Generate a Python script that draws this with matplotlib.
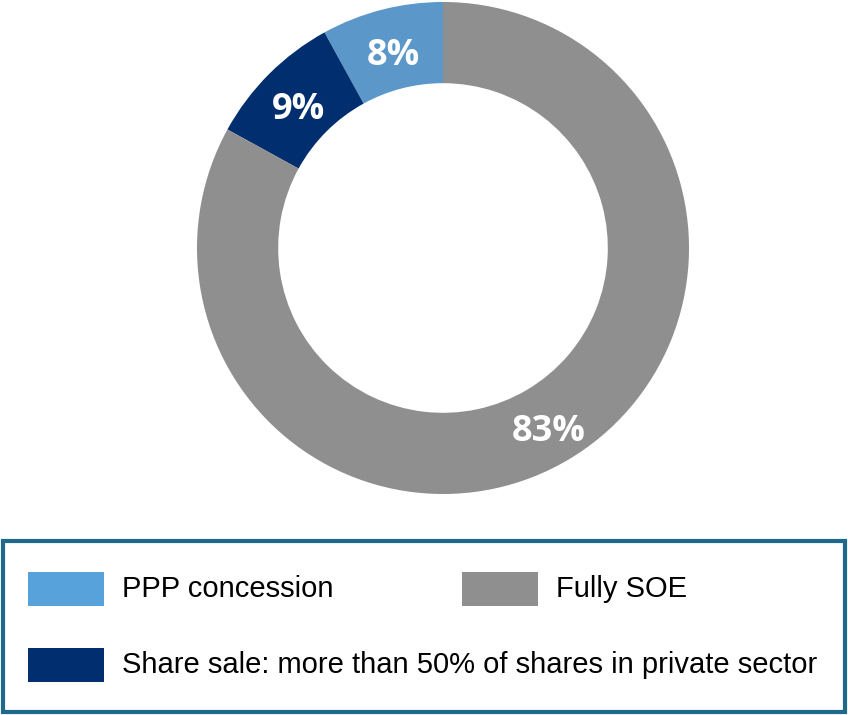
"""
Donut: ownership structure, with a boxed legend below.
"""
import matplotlib.pyplot as plt
from matplotlib.patches import Rectangle
from matplotlib.transforms import offset_copy

# Data
labels = ["PPP concession", "Share sale: more than 50% of shares in private sector", "Fully SOE"]
shares = [8, 9, 83]
pie_colors = ["#5B97C9", "#002E6E", "#8F8F8F"]
legend_colors = ["#58A2DB", "#002E6E", "#8F8F8F"]

W, H = 848, 715
fig = plt.figure(figsize=(W / 100, H / 100), dpi=100)


def px_axes(x0, y0, x1, y1):
    """Axes from pixel box (top-left origin)."""
    return fig.add_axes([x0 / W, 1 - y1 / H, (x1 - x0) / W, (y1 - y0) / H])


# Donut
ax = px_axes(197, 2, 689, 494)
wedges, _, autotexts = ax.pie(
    shares, colors=pie_colors, startangle=90, counterclock=True, radius=1,
    wedgeprops=dict(width=0.33, edgecolor="none"),
    autopct=lambda p: f"{p:.0f}%", pctdistance=0.835,
)
for t in autotexts:
    t.set_color("white")
    t.set_fontsize(26)
    t.set_fontweight("bold")
    t.set_fontfamily("Open Sans")
    t.set_transform(offset_copy(ax.transData, fig=fig, x=1, y=-7, units="dots"))
ax.set_xlim(-1, 1)
ax.set_ylim(-1, 1)
ax.set_aspect("equal")
ax.axis("off")

# Legend box
fig.patches.append(Rectangle((3 / W, 1 - 712 / H), 842 / W, 171 / H,
                             transform=fig.transFigure, fill=False,
                             edgecolor="#1F6A8C", linewidth=3))

# legend items: (label index, patch x, row y-center)
slots = [(0, 28, 589), (2, 462, 589), (1, 28, 665)]
for idx, x, yc in slots:
    fig.patches.append(Rectangle((x / W, 1 - (yc + 17) / H), 76 / W, 34 / H,
                                 transform=fig.transFigure,
                                 facecolor=legend_colors[idx], edgecolor="none"))
    fig.text((x + 94) / W, 1 - yc / H, labels[idx], fontsize=21,
             family="Liberation Sans", va="center", ha="left")

fig.savefig("out.png", dpi=100)
